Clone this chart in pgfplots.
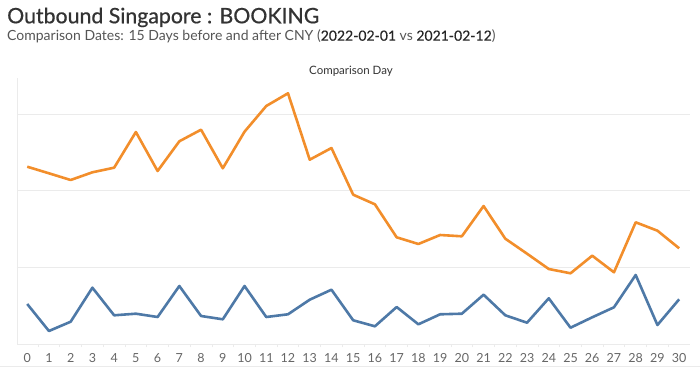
\documentclass[border=0pt]{standalone}
\usepackage{pgfplots}
\pgfplotsset{compat=1.18}
\usepackage{fontspec}
\setmainfont{Lato}
\newfontfamily\medfont[FakeBold=0.6]{Lato}
\newfontfamily\datefont[FakeBold=0.35]{Lato}
\definecolor{tabOrange}{HTML}{F28E2B}
\definecolor{tabBlue}{HTML}{4E79A7}
\definecolor{gridc}{HTML}{EBEBEB}
\definecolor{tickc}{HTML}{666666}
\definecolor{subc}{HTML}{555555}
\definecolor{titc}{HTML}{333333}
\begin{document}
\begin{tikzpicture}[x=1pt,y=1pt]
\useasboundingbox (0,0) rectangle (700,369);
\node[anchor=base west,inner sep=0,font=\fontsize{21.3}{24}\medfont,text=titc] at (7,345.7) {Outbound Singapore : BOOKING};
\node[anchor=base west,inner sep=0,font=\fontsize{14}{16}\selectfont,text=subc] at (7,328.3) {Comparison Dates: 15 Days before and after CNY ({\datefont\textcolor{black!85}{2022-02-01}} vs {\datefont\textcolor{black!85}{2021-02-12}})};
\node[anchor=base,inner sep=0,font=\fontsize{11.5}{13}\selectfont,text=titc] at (351,294.7) {Comparison Day};
\draw[gridc,line width=1pt] (0,2.3) -- (700,2.3);
\begin{axis}[
  at={(17pt,24.7pt)}, anchor=south west,
  scale only axis, width=672.8pt, height=266.3pt,
  xmin=-0.47, xmax=30.49, ymin=-0.8, ymax=265.5,
  axis x line*=bottom, axis y line*=left,
  axis line style={gridc, line width=0.8pt},
  xtick={0,...,30}, major x tick style={draw=none},
  minor xtick={-0.5,0.5,...,30.5},
  minor x tick style={gridc, line width=0.8pt},
  minor tick length=3pt,
  tick align=outside,
  ytick={76.5,153.5,229.5}, yticklabels={}, major y tick style={draw=none},
  ymajorgrids, grid style={gridc, line width=0.6pt},
  xticklabel style={font=\fontsize{12.5}{14}\selectfont, text=tickc, yshift=-1pt},
  /pgf/number format/assume math mode=true,
  clip=false,
]
\addplot[tabOrange, line width=2.6pt, line join=round] coordinates {
(0,176.8) (1,170.2) (2,163.5) (3,171.2) (4,175.8) (5,211.5) (6,172.5) (7,202.2)
(8,213.8) (9,175.2) (10,211.8) (11,237.5) (12,250.2) (13,183.8) (14,195.5) (15,148.8)
(16,139.2) (17,106.2) (18,99.5) (19,108.5) (20,107.2) (21,137.5) (22,104.8) (23,89.8)
(24,74.5) (25,70.2) (26,87.8) (27,71.2) (28,121.2) (29,112.8) (30,95.2)};
\addplot[tabBlue, line width=2.6pt, line join=round] coordinates {
(0,39.5) (1,12.5) (2,21.8) (3,55.8) (4,28.2) (5,29.8) (6,26.5) (7,57.5)
(8,27.5) (9,24.2) (10,57.5) (11,26.5) (12,29.2) (13,43.8) (14,53.8) (15,23.2)
(16,17.2) (17,36.5) (18,19.2) (19,29.2) (20,29.8) (21,48.8) (22,28.2) (23,20.8)
(24,45.2) (25,15.8) (26,26.2) (27,36.2) (28,68.5) (29,18.5) (30,44.2)};
\end{axis}
\end{tikzpicture}
\end{document}
